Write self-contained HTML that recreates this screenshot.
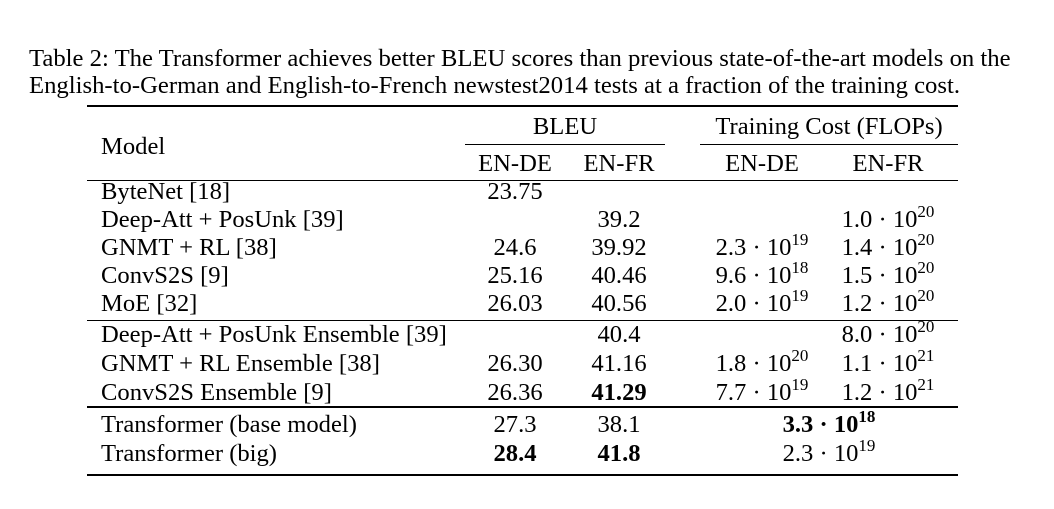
<!DOCTYPE html>
<html><head><meta charset="utf-8"><style>
body{margin:0;width:1054px;height:509px;background:#fff;position:relative;overflow:hidden;font-family:"Liberation Serif",serif;color:#000}
.t{position:absolute;white-space:nowrap;font-size:24.6px;line-height:28px;transform:translate(-50%,-50%)}
.l{transform:translate(0,-50%)}
.cap{position:absolute;left:29px;font-size:24.7px;white-space:nowrap;line-height:28px;transform:translateY(-50%)}
.r{position:absolute;background:#000}
sup{font-size:17px;vertical-align:10px;line-height:0}
b{font-weight:bold}
</style></head><body>
<div class="cap" style="top:59px">Table 2: The Transformer achieves better BLEU scores than previous state-of-the-art models on the</div>
<div class="cap" style="top:86px">English-to-German and English-to-French newstest2014 tests at a fraction of the training cost.</div>

<div class="r" style="left:87px;top:105px;width:871px;height:2px"></div>
<div class="r" style="left:465px;top:144px;width:200px;height:1px"></div>
<div class="r" style="left:700px;top:144px;width:258px;height:1px"></div>
<div class="r" style="left:87px;top:180px;width:871px;height:1px"></div>
<div class="r" style="left:87px;top:320px;width:871px;height:1px"></div>
<div class="r" style="left:87px;top:406px;width:871px;height:2px"></div>
<div class="r" style="left:87px;top:474px;width:871px;height:2px"></div>

<div class="t l" style="left:101px;top:147px">Model</div>
<div class="t" style="left:565px;top:127px">BLEU</div>
<div class="t" style="left:829px;top:127px">Training Cost (FLOPs)</div>
<div class="t" style="left:515px;top:164px">EN-DE</div>
<div class="t" style="left:619px;top:164px">EN-FR</div>
<div class="t" style="left:762px;top:164px">EN-DE</div>
<div class="t" style="left:888px;top:164px">EN-FR</div>

<script>
const models=["ByteNet [18]","Deep-Att + PosUnk [39]","GNMT + RL [38]","ConvS2S [9]","MoE [32]","Deep-Att + PosUnk Ensemble [39]","GNMT + RL Ensemble [38]","ConvS2S Ensemble [9]","Transformer (base model)","Transformer (big)"];
const bleuDe=["23.75","","24.6","25.16","26.03","","26.30","26.36","27.3","<b>28.4</b>"];
const bleuFr=["","39.2","39.92","40.46","40.56","40.4","41.16","<b>41.29</b>","38.1","<b>41.8</b>"];
const costDe=["","","2.3 · 10<sup>19</sup>","9.6 · 10<sup>18</sup>","2.0 · 10<sup>19</sup>","","1.8 · 10<sup>20</sup>","7.7 · 10<sup>19</sup>","",""];
const costFr=["","1.0 · 10<sup>20</sup>","1.4 · 10<sup>20</sup>","1.5 · 10<sup>20</sup>","1.2 · 10<sup>20</sup>","8.0 · 10<sup>20</sup>","1.1 · 10<sup>21</sup>","1.2 · 10<sup>21</sup>","",""];
const costMerged=["","","","","","","","","<b>3.3 · 10<sup>18</sup></b>","2.3 · 10<sup>19</sup>"];
const rowY=[192,220,248,276,304,335,364,393,425,454];
const root=document.body;
function cell(html,x,y,left,name){
  const d=document.createElement('div');
  d.className='t'+(left?' l':'');
  d.style.left=x+'px';d.style.top=y+'px';
  d.innerHTML=html;
  
  
  root.appendChild(d);
}
models.forEach((m,i)=>{
  const y=rowY[i];
  cell(m,101,y,true,'model-name');
  if(bleuDe[i])cell(bleuDe[i],515,y,false,'bleu-en-de-value');
  if(bleuFr[i])cell(bleuFr[i],619,y,false,'bleu-en-fr-value');
  if(costDe[i])cell(costDe[i],762,y,false,'cost-en-de-value');
  if(costFr[i])cell(costFr[i],888,y,false,'cost-en-fr-value');
  if(costMerged[i])cell(costMerged[i],829,y,false,'cost-merged-value');
});
</script>
</body></html>
